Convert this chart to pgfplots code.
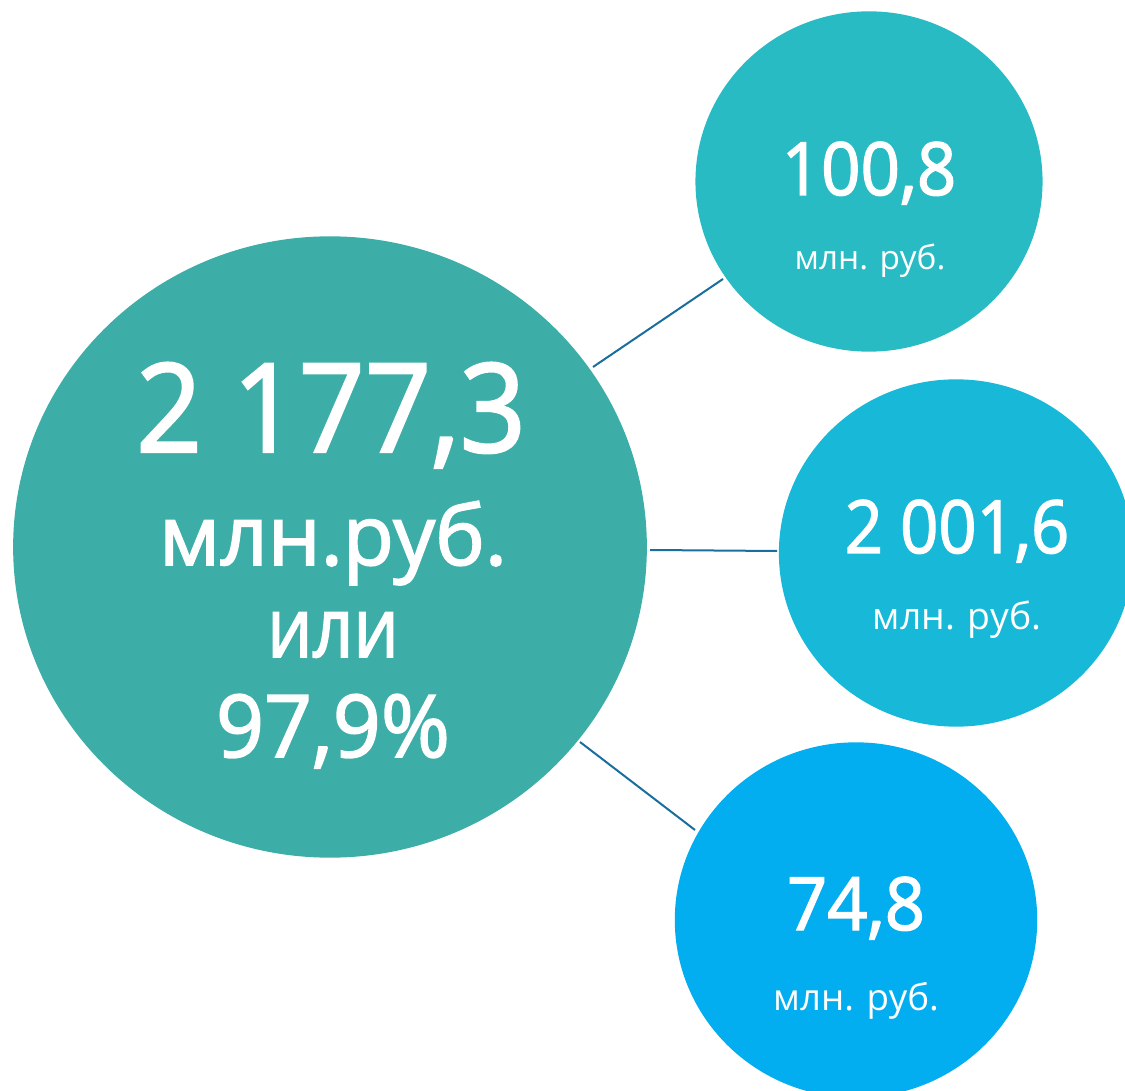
\documentclass[border=0pt]{standalone}
\usepackage{pgfplots}
\pgfplotsset{compat=1.18}
\usepackage{fontspec}
\setmainfont{Open Sans}
\newfontfamily\semib[FakeBold=2]{Open Sans}
\newfontfamily\lightf{Open Sans}
\definecolor{cmain}{HTML}{3CAEA7}
\definecolor{ctop}{HTML}{29BBC3}
\definecolor{cmid}{HTML}{17B8D8}
\definecolor{cbot}{HTML}{02AEEF}
\definecolor{cline}{HTML}{1A6E9E}
\begin{document}
\begin{tikzpicture}
\begin{axis}[x=0.3pt, y=0.3pt, xmin=0, xmax=1125, ymin=0, ymax=1090,
  hide axis, scale only axis, clip=true]
% connector lines
\addplot[cline, line width=0.6pt] coordinates {(593,723) (723,811)};
\addplot[cline, line width=0.6pt] coordinates {(650,540) (777,539)};
\addplot[cline, line width=0.6pt] coordinates {(580,348) (695,260)};
% bubbles
\addplot[cmain, only marks, mark=*, mark size=93pt, mark options={fill=cmain, draw=cmain, xscale=1.02}] coordinates {(330,543)};
\addplot[ctop, only marks, mark=*, mark size=50.85pt, mark options={fill=ctop, draw=ctop, xscale=1.02}] coordinates {(869,908.5)};
\addplot[cmid, only marks, mark=*, mark size=51.9pt, mark options={fill=cmid, draw=cmid, xscale=1.02}] coordinates {(956,537)};
\addplot[cbot, only marks, mark=*, mark size=53.1pt, mark options={fill=cbot, draw=cbot, xscale=1.02}] coordinates {(856,170)};
\coordinate (m1) at (axis cs:331,638);
\coordinate (m2) at (axis cs:333,525);
\coordinate (m3) at (axis cs:333,433);
\coordinate (m4) at (axis cs:333,333);
\coordinate (t1) at (axis cs:869,895);
\coordinate (t2) at (axis cs:870,820);
\coordinate (c1) at (axis cs:957,537);
\coordinate (c2) at (axis cs:957,460);
\coordinate (b1) at (axis cs:856,160);
\coordinate (b2) at (axis cs:856,80);
\end{axis}
% labels
\begin{scope}[every node/.style={anchor=base, text=white, inner sep=0pt, transform shape}]
\node[font=\semib\fontsize{37}{40}\selectfont, xscale=0.94] at (m1) {2 177,3};
\node[font=\semib\fontsize{25}{27}\selectfont] at (m2) {млн.руб.};
\node[font=\semib\fontsize{25}{27}\selectfont, xscale=0.86] at (m3) {или};
\node[font=\semib\fontsize{26}{28}\selectfont, xscale=0.97] at (m4) {97,9\%};
\node[font=\semib\fontsize{22}{25}\selectfont, xscale=0.94] at (t1) {100,8};
\node[font=\lightf\fontsize{10}{13}\selectfont] at (t2) {млн. руб.};
\node[font=\semib\fontsize{22}{25}\selectfont, xscale=0.91] at (c1) {2 001,6};
\node[font=\lightf\fontsize{11.2}{13}\selectfont] at (c2) {млн. руб.};
\node[font=\semib\fontsize{22}{25}\selectfont, xscale=0.96] at (b1) {74,8};
\node[font=\lightf\fontsize{11}{13}\selectfont] at (b2) {млн. руб.};
\end{scope}
\pgfresetboundingbox
\path[use as bounding box] (current axis.south west) rectangle (current axis.north east);
\end{tikzpicture}
\end{document}
